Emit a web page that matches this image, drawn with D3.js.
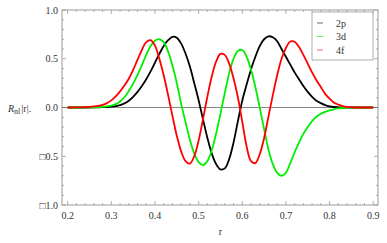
<!DOCTYPE html>
<html>
<head>
<meta charset="utf-8">
<script src="https://cdn.jsdelivr.net/npm/d3@7"></script>
<style>
  body { margin: 0; background: #fff; }
  text { font-family: "Liberation Serif", "DejaVu Serif", serif; }
</style>
</head>
<body>
<div class="visHolder"></div>
<script>
// r values, step 0.01 from 0.20 to 0.90
let rValues = d3.range(71).map(i => +(0.2 + i * 0.01).toFixed(2));

let series2p = [0, 0, 0, 0, 0, 0, 0.001, 0.002, 0.003, 0.005,
  0.008, 0.014, 0.024, 0.042, 0.07, 0.11, 0.16, 0.22, 0.29, 0.37,
  0.46, 0.55, 0.63, 0.69, 0.725, 0.715, 0.655, 0.554, 0.42, 0.25,
  0.075, -0.12, -0.31, -0.47, -0.58, -0.635, -0.624, -0.53, -0.36, -0.14,
  0.07, 0.235, 0.39, 0.52, 0.63, 0.70, 0.73, 0.72, 0.68, 0.60,
  0.52, 0.44, 0.36, 0.29, 0.22, 0.16, 0.11, 0.07, 0.045, 0.025,
  0.012, 0.005, 0.002, 0, 0, 0, 0, 0, 0, 0, 0];

let series3d = [0, 0, 0, 0, 0, 0.001, 0.002, 0.004, 0.007, 0.012,
  0.02, 0.035, 0.062, 0.105, 0.17, 0.245, 0.335, 0.435, 0.54, 0.63,
  0.685, 0.70, 0.67, 0.575, 0.43, 0.25, 0.04, -0.15, -0.33, -0.47,
  -0.56, -0.59, -0.55, -0.44, -0.27, -0.065, 0.15, 0.35, 0.50, 0.58,
  0.59, 0.52, 0.39, 0.21, 0.0, -0.22, -0.43, -0.58, -0.67, -0.70,
  -0.67, -0.57, -0.46, -0.36, -0.27, -0.20, -0.14, -0.095, -0.065, -0.045,
  -0.03, -0.018, -0.01, -0.005, -0.002, 0, 0, 0, 0, 0, 0];

let series4f = [0, 0, 0.001, 0.002, 0.004, 0.007, 0.011, 0.017, 0.027, 0.045,
  0.073, 0.113, 0.165, 0.225, 0.295, 0.385, 0.49, 0.59, 0.67, 0.69,
  0.635, 0.50, 0.33, 0.13, -0.086, -0.29, -0.45, -0.55, -0.575, -0.50,
  -0.34, -0.12, 0.11, 0.315, 0.47, 0.55, 0.54, 0.45, 0.30, 0.105,
  -0.145, -0.40, -0.55, -0.57, -0.48, -0.315, -0.094, 0.127, 0.33, 0.50,
  0.61, 0.677, 0.675, 0.62, 0.54, 0.45, 0.36, 0.28, 0.21, 0.14,
  0.09, 0.05, 0.03, 0.015, 0.007, 0.003, 0, 0, 0, 0, 0];

let seriesNames = ['2p', '3d', '4f'];
let seriesColors = ['#000000', '#00ee00', '#ff0000'];
let xTickValues = [0.2, 0.3, 0.4, 0.5, 0.6, 0.7, 0.8, 0.9];
let yTickValues = [-1, -0.5, 0, 0.5, 1];
let yTickLabels = ['\u25A11.0', '\u25A10.5', '0.0', '0.5', '1.0'];

let width = 387;
let height = 243;
let plotLeft = 62, plotRight = 378, plotTop = 10, plotBottom = 205;

let svg = d3.select('.visHolder').append('svg')
  .attr('width', width)
  .attr('height', height);

let xScale = d3.scaleLinear().domain([0.187, 0.911]).range([plotLeft, plotRight]);
let yScale = d3.scaleLinear().domain([-1, 1]).range([plotBottom, plotTop]);

// frame
svg.append('rect')
  .attr('x', plotLeft).attr('y', plotTop)
  .attr('width', plotRight - plotLeft).attr('height', plotBottom - plotTop)
  .attr('fill', 'none').attr('stroke', '#9a9a9a').attr('stroke-width', 1);

// tick marks on all four sides (inside)
let xMinor = d3.range(0.2, 0.9001, 0.02);
let yMinor = d3.range(-1, 1.0001, 0.1);
function drawTicks() {
  let g = svg.append('g').attr('stroke', '#9a9a9a').attr('stroke-width', 0.8);
  xMinor.forEach(v => {
    let major = xTickValues.some(t => Math.abs(t - v) < 1e-6);
    let len = major ? 4 : 2;
    let x = xScale(v);
    g.append('line').attr('x1', x).attr('x2', x).attr('y1', plotBottom).attr('y2', plotBottom - len);
    g.append('line').attr('x1', x).attr('x2', x).attr('y1', plotTop).attr('y2', plotTop + len);
  });
  yMinor.forEach(v => {
    let major = yTickValues.some(t => Math.abs(t - v) < 1e-6);
    let len = major ? 4 : 2;
    let y = yScale(v);
    g.append('line').attr('x1', plotLeft).attr('x2', plotLeft + len).attr('y1', y).attr('y2', y);
    g.append('line').attr('x1', plotRight).attr('x2', plotRight - len).attr('y1', y).attr('y2', y);
  });
}
drawTicks();

// tick labels
svg.append('g').selectAll('text')
  .data(xTickValues)
  .join('text')
  .attr('x', d => xScale(d))
  .attr('y', plotBottom + 14)
  .attr('text-anchor', 'middle')
  .attr('font-size', 10)
  .attr('fill', '#333')
  .text(d => d.toFixed(1));

svg.append('g').selectAll('text')
  .data(yTickValues)
  .join('text')
  .attr('x', plotLeft - 4)
  .attr('y', d => yScale(d) + 3.5)
  .attr('text-anchor', 'end')
  .attr('font-size', 10)
  .attr('fill', '#333')
  .text((d, i) => yTickLabels[i]);

// axis titles
svg.append('text')
  .attr('x', xScale(0.55)).attr('y', 235)
  .attr('text-anchor', 'middle').attr('font-size', 10).attr('fill', '#333')
  .text('r');

let yt = svg.append('text')
  .attr('x', 8).attr('y', 112)
  .attr('font-size', 10).attr('fill', '#333');
yt.append('tspan').attr('font-style', 'italic').text('R');
yt.append('tspan').attr('font-size', 8).attr('dy', 2).text('nl');
yt.append('tspan').attr('dy', -2).attr('dx', 1).text('|r|.');

// zero line
svg.append('line')
  .attr('x1', plotLeft).attr('x2', plotRight)
  .attr('y1', yScale(0)).attr('y2', yScale(0))
  .attr('stroke', '#666').attr('stroke-width', 0.8);

// curves
let allSeries = [series2p, series3d, series4f];
let line = d3.line()
  .x((d, i) => xScale(rValues[i]))
  .y(d => yScale(d))
  .curve(d3.curveCatmullRom);

allSeries.forEach((s, k) => {
  svg.append('path')
    .datum(s)
    .attr('d', line)
    .attr('fill', 'none')
    .attr('stroke', seriesColors[k])
    .attr('stroke-width', 1.8);
});

// legend
let legend = svg.append('g');
legend.append('rect')
  .attr('x', 312).attr('y', 12)
  .attr('width', 61).attr('height', 48)
  .attr('fill', '#fff').attr('stroke', '#9a9a9a').attr('stroke-width', 0.8);
seriesNames.forEach((name, i) => {
  let y = 23 + i * 13.5;
  legend.append('line')
    .attr('x1', 317).attr('x2', 323)
    .attr('y1', y).attr('y2', y)
    .attr('stroke', seriesColors[i]).attr('stroke-width', 1)
    .attr('opacity', 0.6);
  legend.append('text')
    .attr('x', 336).attr('y', y + 3.5)
    .attr('font-size', 10).attr('fill', '#333')
    .text(name);
});
</script>
</body>
</html>
